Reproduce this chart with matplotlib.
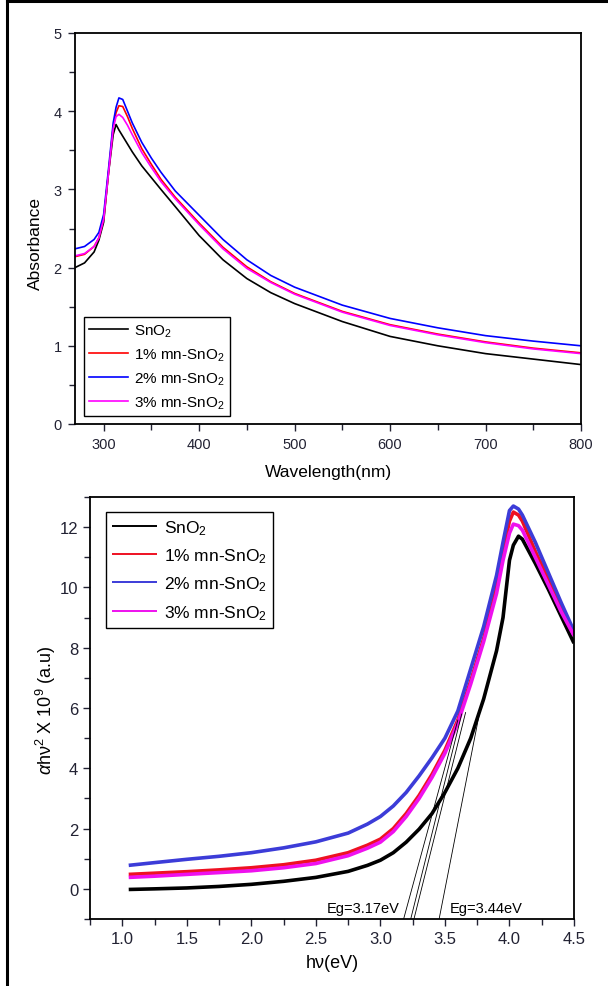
import matplotlib
matplotlib.use("Agg")
import matplotlib.pyplot as plt
from matplotlib.lines import Line2D
from matplotlib.ticker import MultipleLocator

plt.rcParams['font.family'] = ['Liberation Sans', 'DejaVu Sans']
plt.rcParams['mathtext.fontset'] = 'custom'
plt.rcParams['mathtext.rm'] = 'Liberation Sans'
plt.rcParams['mathtext.it'] = 'Liberation Sans:italic'
plt.rcParams['mathtext.bf'] = 'Liberation Sans:bold'
NARROW = ['Liberation Sans Narrow', 'Liberation Sans', 'DejaVu Sans']

# ---- data: absorbance spectra ----
labels = ['SnO$_2$', '1% mn-SnO$_2$', '2% mn-SnO$_2$', '3% mn-SnO$_2$']
wavelength = [270, 280, 290, 295, 300, 305, 310, 313, 316, 320, 325, 330, 340, 350,
              360, 375, 400, 425, 450, 475, 500, 550, 600, 650, 700, 750, 800]
abs_sno2 = [2.00, 2.06, 2.20, 2.35, 2.58, 3.20, 3.70, 3.83, 3.76, 3.68, 3.58, 3.48, 3.30, 3.15,
            3.00, 2.78, 2.41, 2.10, 1.86, 1.68, 1.54, 1.31, 1.12, 1.00, 0.90, 0.83, 0.76]
abs_1mn = [2.14, 2.17, 2.27, 2.38, 2.62, 3.20, 3.80, 3.98, 4.07, 4.06, 3.93, 3.78, 3.52, 3.32,
           3.13, 2.90, 2.57, 2.26, 2.01, 1.82, 1.67, 1.44, 1.27, 1.15, 1.05, 0.97, 0.91]
abs_2mn = [2.24, 2.27, 2.36, 2.45, 2.68, 3.25, 3.85, 4.05, 4.17, 4.15, 4.00, 3.85, 3.60, 3.40,
           3.22, 2.98, 2.67, 2.36, 2.10, 1.90, 1.75, 1.52, 1.35, 1.23, 1.13, 1.06, 1.00]
abs_3mn = [2.15, 2.18, 2.27, 2.38, 2.62, 3.20, 3.78, 3.93, 3.96, 3.92, 3.82, 3.70, 3.47, 3.28,
           3.10, 2.88, 2.55, 2.24, 1.99, 1.81, 1.66, 1.43, 1.26, 1.14, 1.04, 0.96, 0.90]

# ---- data: Tauc plot ----
energy = [1.05, 1.25, 1.5, 1.75, 2.0, 2.25, 2.5, 2.75, 2.9, 3.0, 3.1, 3.2, 3.3, 3.4,
          3.5, 3.6, 3.7, 3.8, 3.9, 3.95, 4.0, 4.03, 4.07, 4.1, 4.2, 4.3, 4.4, 4.5]
tauc_sno2 = [-0.02, 0.0, 0.03, 0.08, 0.15, 0.25, 0.38, 0.58, 0.78, 0.95, 1.20, 1.55, 1.98, 2.5,
             3.2, 4.0, 5.0, 6.3, 7.9, 9.0, 10.9, 11.4, 11.7, 11.6, 10.8, 9.95, 9.05, 8.15]
tauc_1mn = [0.48, 0.52, 0.57, 0.63, 0.70, 0.80, 0.95, 1.20, 1.45, 1.65, 2.00, 2.50, 3.10, 3.80,
            4.60, 5.60, 6.90, 8.30, 10.0, 11.2, 12.2, 12.5, 12.4, 12.2, 11.2, 10.3, 9.4, 8.5]
tauc_2mn = [0.78, 0.87, 0.98, 1.08, 1.20, 1.36, 1.56, 1.85, 2.15, 2.40, 2.75, 3.20, 3.75, 4.35,
            5.00, 5.90, 7.30, 8.70, 10.4, 11.5, 12.55, 12.7, 12.6, 12.4, 11.5, 10.5, 9.5, 8.55]
tauc_3mn = [0.38, 0.42, 0.48, 0.54, 0.60, 0.70, 0.84, 1.10, 1.35, 1.55, 1.90, 2.40, 3.00, 3.70,
            4.50, 5.50, 6.80, 8.20, 9.80, 10.9, 11.8, 12.1, 12.05, 11.9, 11.0, 10.1, 9.2, 8.4]

# linear fits used for the band gap (start at axis bottom, end on the curve)
fit_x0 = [3.18, 3.235, 3.26, 3.455]
fit_y0 = [-1.0, -1.0, -1.0, -1.0]
fit_x1 = [3.60, 3.63, 3.66, 3.78]
fit_y1 = [5.6, 5.8, 5.85, 6.1]

colors_top = ['black', '#ff0000', '#0000ff', '#ff00ff']
colors_bot = ['black', '#ee1122', '#3c3cd8', '#ee11ee']

fig = plt.figure(figsize=(6.08, 9.87), dpi=100)

# outer frame (left and top only)
fig.add_artist(Line2D([7/608, 7/608], [0, 1 - 2/987], transform=fig.transFigure, color='black', lw=2.2))
fig.add_artist(Line2D([7/608, 1], [1 - 2/987, 1 - 2/987], transform=fig.transFigure, color='black', lw=2.2))

# ---------- top panel ----------
ax1 = fig.add_axes([75/608, 1 - 425/987, 506/608, 391/987])
for y, c, lab in zip([abs_sno2, abs_1mn, abs_2mn, abs_3mn], colors_top, labels):
    ax1.plot(wavelength, y, color=c, lw=1.2, label=lab)
ax1.set_xlim(270, 800)
ax1.set_ylim(0, 5)
ax1.xaxis.set_major_locator(MultipleLocator(100))
ax1.xaxis.set_minor_locator(MultipleLocator(50))
ax1.yaxis.set_major_locator(MultipleLocator(1))
ax1.yaxis.set_minor_locator(MultipleLocator(0.5))
ax1.tick_params(which='both', direction='out', width=1.0, labelsize=10.5, colors='#222233', pad=4.5)
ax1.tick_params(which='major', length=5)
ax1.tick_params(which='minor', length=4)
for s in ax1.spines.values():
    s.set_linewidth(1.3)
ax1.set_xlabel('Wavelength(nm)', fontsize=12.5, va='center')
ax1.set_ylabel('Absorbance', fontsize=12.5, va='center')
ax1.xaxis.set_label_coords(0.5, -0.122)
ax1.yaxis.set_label_coords(-0.079, 0.465)
leg1 = ax1.legend(loc='upper left', bbox_to_anchor=(84/608, 1 - 318/987),
                  bbox_transform=fig.transFigure, borderaxespad=0, fancybox=False,
                  edgecolor='black', framealpha=1, fontsize=11, handlelength=2.5,
                  handletextpad=0.4, labelspacing=0.5, borderpad=0.35)
leg1.get_frame().set_linewidth(1.0)

# ---------- bottom panel ----------
ax2 = fig.add_axes([90/608, 1 - 920/987, 484/608, 422/987])
for y, c, lab in zip([tauc_sno2, tauc_1mn, tauc_2mn, tauc_3mn], colors_bot, labels):
    ax2.plot(energy, y, color=c, lw=2.6, label=lab, solid_capstyle='butt')
for xa, ya, xb, yb in zip(fit_x0, fit_y0, fit_x1, fit_y1):
    ax2.plot([xa, xb], [ya, yb], color='black', lw=0.6)
ax2.set_xlim(0.75, 4.5)
ax2.set_ylim(-1, 13)
ax2.xaxis.set_major_locator(MultipleLocator(0.5))
ax2.xaxis.set_minor_locator(MultipleLocator(0.25))
ax2.yaxis.set_major_locator(MultipleLocator(2))
ax2.yaxis.set_minor_locator(MultipleLocator(1))
ax2.tick_params(which='both', direction='out', width=1.0, labelsize=12, colors='#222233')
ax2.tick_params(which='major', length=5)
ax2.tick_params(which='minor', length=4)
for t in ax2.get_xticklabels() + ax2.get_yticklabels():
    t.set_family(NARROW)
for s in ax2.spines.values():
    s.set_linewidth(1.3)
ax2.set_xlabel('hν(eV)', fontsize=13, va='center', family=NARROW)
ax2.set_ylabel(r'$\alpha$hν$^2$ X 10$^9$ (a.u)', fontsize=13, va='center', family=NARROW)
ax2.xaxis.set_label_coords(0.5, -0.102)
ax2.yaxis.set_label_coords(-0.091, 0.498)
ax2.text(3.15, -0.62, 'Eg=3.17eV', ha='right', va='center', fontsize=10.5, family=NARROW)
ax2.text(3.54, -0.62, 'Eg=3.44eV', ha='left', va='center', fontsize=10.5, family=NARROW)
leg2 = ax2.legend(loc='upper left', bbox_to_anchor=(106/608, 1 - 513/987),
                  bbox_transform=fig.transFigure, borderaxespad=0, fancybox=False,
                  edgecolor='black', framealpha=1, fontsize=12.5, handlelength=2.6,
                  handletextpad=0.4, labelspacing=0.55, borderpad=0.35)
leg2.get_frame().set_linewidth(1.0)
for line in leg2.get_lines():
    line.set_linewidth(1.4)

fig.savefig('out.png', dpi=100)
